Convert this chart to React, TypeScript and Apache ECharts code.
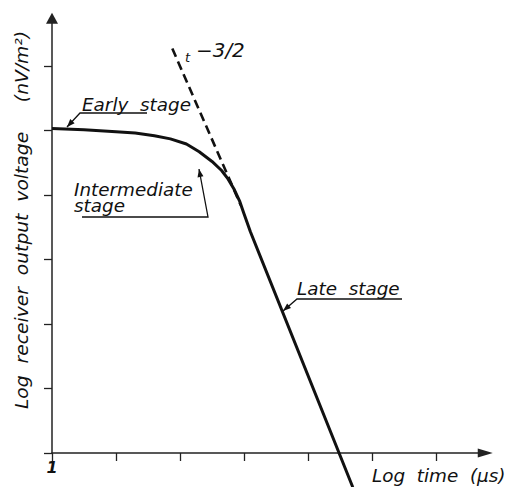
import React, { useEffect, useRef } from "react";
import * as echarts from "echarts";

// Log-time units (decades from t = 1) and log-voltage units
const xTicks = [0, 1, 2, 3, 4, 5, 6];
const yTicks = [0, 1, 2, 3, 4, 5, 6];
const xLabelValues = [0];
const xLabelTexts = ["1"];

// Receiver response curve (early -> intermediate -> late stage)
const responseX = [0, 0.5, 1.0, 1.3, 1.6, 1.85, 2.1, 2.3, 2.5, 2.65, 2.75, 2.85, 2.93, 3.0, 3.1, 4.7];
const responseY = [5.03, 5.01, 4.98, 4.96, 4.92, 4.87, 4.79, 4.67, 4.52, 4.38, 4.25, 4.08, 3.91, 3.71, 3.43, -0.53];

// t^-3/2 asymptote (dashed)
const asymX = [1.88, 2.95];
const asymY = [6.27, 3.84];

const X_MAX = 6.77;
const Y_MAX = 6.74;

const INK = "#111";
const FONT = "italic 17px 'DejaVu Sans'";

function arrowHead(from: number[], to: number[], len = 8, half = 3) {
  const dx = to[0] - from[0];
  const dy = to[1] - from[1];
  const d = Math.hypot(dx, dy) || 1;
  const ux = dx / d, uy = dy / d;
  const bx = to[0] - ux * len, by = to[1] - uy * len;
  return {
    type: "polygon",
    shape: { points: [[to[0], to[1]], [bx - uy * half, by + ux * half], [bx + uy * half, by - ux * half]] },
    style: { fill: INK },
    z: 10,
  };
}

function leader(points: number[][]) {
  const n = points.length;
  return [
    { type: "polyline", shape: { points }, style: { stroke: INK, lineWidth: 1.3, fill: null }, z: 10 },
    arrowHead(points[n - 2], points[n - 1]),
  ];
}

function label(text: string, x: number, y: number, font = FONT, scaleX = 1.08, lineHeight?: number) {
  return {
    type: "text",
    x,
    y,
    scaleX,
    style: { text, font, fill: INK, textAlign: "left", textVerticalAlign: "middle", lineHeight },
    z: 10,
  };
}

export default function App() {
  const ref = useRef<HTMLDivElement>(null);
  useEffect(() => {
    if (!ref.current) return;
    const chart = echarts.init(ref.current, null, { renderer: "svg" });
    const option: any = {
      animation: false,
      backgroundColor: "#fff",
      grid: { left: 52, top: 453 - Y_MAX * 64.5, right: 520 - 52 - X_MAX * 64, bottom: 34, containLabel: false },
      xAxis: {
        type: "value",
        min: 0,
        max: X_MAX,
        axisLine: {
          show: true,
          symbol: ["none", "triangle"],
          symbolSize: [9, 15],
          lineStyle: { color: "#222", width: 1.5 },
        },
        axisTick: { show: true, customValues: xTicks, length: 8, lineStyle: { color: "#222", width: 1.3 } },
        axisLabel: {
          show: true,
          customValues: xLabelValues,
          formatter: (v: number) => xLabelTexts[xLabelValues.indexOf(v)] ?? "",
          fontStyle: "italic",
          fontWeight: "bold",
          fontFamily: "DejaVu Sans",
          fontSize: 16,
          color: INK,
          margin: 6,
        },
        splitLine: { show: false },
      },
      yAxis: {
        type: "value",
        min: 0,
        max: Y_MAX,
        axisLine: {
          show: true,
          symbol: ["none", "triangle"],
          symbolSize: [12, 11],
          lineStyle: { color: "#222", width: 1.5 },
        },
        axisTick: { show: true, customValues: yTicks, length: 8, lineStyle: { color: "#222", width: 1.3 } },
        axisLabel: { show: false },
        splitLine: { show: false },
      },
      series: [
        {
          type: "line",
          name: "response",
          data: responseX.map((x, i) => [x, responseY[i]]),
          showSymbol: false,
          smooth: false,
          clip: false,
          lineStyle: { color: INK, width: 3, join: "round" },
          z: 5,
        },
        {
          type: "line",
          name: "t^-3/2",
          data: asymX.map((x, i) => [x, asymY[i]]),
          showSymbol: false,
          clip: false,
          lineStyle: { color: INK, width: 2.6, type: [9, 5] },
          z: 4,
        },
      ],
      graphic: [
        {
          type: "text",
          x: 22,
          y: 220,
          rotation: Math.PI / 2,
          scaleX: 1.1,
          style: {
            text: "Log  receiver  output  voltage     (nV/m²)",
            font: FONT,
            fill: INK,
            textAlign: "center",
            textVerticalAlign: "middle",
          },
        },
        label("Early  stage", 82, 105),
        ...leader([[147, 113], [80, 113], [67, 127]]),
        label("Intermediate\nstage", 74, 198, FONT, 1.08, 16),
        ...leader([[82, 217], [208, 217], [199, 169]]),
        label("Late  stage", 297, 289),
        ...leader([[402, 299], [297, 299], [283, 311]]),
        label("t", 185, 57, "italic 13px 'DejaVu Sans'", 1),
        label("−3/2", 196, 51, "italic 19px 'DejaVu Sans'", 1.05),
        label("Log  time  (μs)", 372, 476, "italic 17px 'DejaVu Sans'", 1.08),
      ],
    };
    chart.setOption(option);
    return () => chart.dispose();
  }, []);
  return (
    <div
      ref={ref}
      style={{ position: "fixed", left: 0, top: 0, width: 520, height: 487, background: "#fff" }}
    />
  );
}
